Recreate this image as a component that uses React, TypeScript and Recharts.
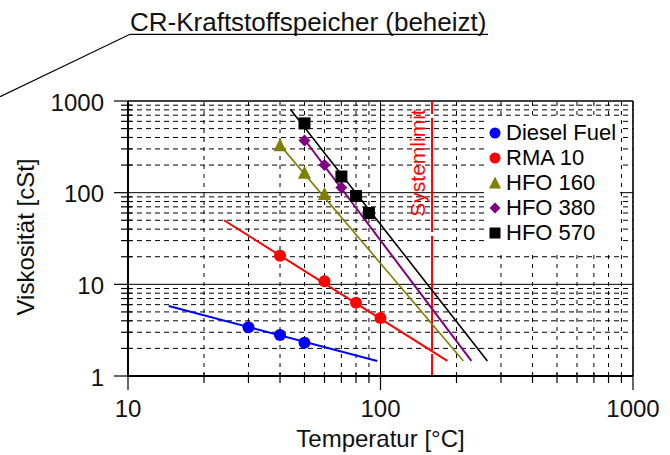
import React from "react";
import {
  ScatterChart,
  Scatter,
  XAxis,
  YAxis,
  ReferenceLine,
  Legend,
  Label,
} from "recharts";

const FONT = '"Liberation Sans", Arial, sans-serif';

// Measured viscosity points: temperature [°C] / viscosity [cSt]
const dieselTemp = [30, 40, 50];
const dieselVisc = [3.4, 2.8, 2.3];
const rmaTemp = [40, 60, 80, 100];
const rmaVisc = [20.5, 10.8, 6.3, 4.3];
const hfo160Temp = [40, 50, 60];
const hfo160Visc = [330, 165, 97];
const hfo380Temp = [50, 60, 70];
const hfo380Visc = [370, 200, 114];
const hfo570Temp = [50, 70, 80, 90];
const hfo570Visc = [570, 150, 92, 60];

// Trend lines (start and end of each fitted line)
const dieselFitTemp = [14.5, 97];
const dieselFitVisc = [5.8, 1.46];
const rmaFitTemp = [24, 184];
const rmaFitVisc = [50, 1.46];
const hfo160FitTemp = [40, 213];
const hfo160FitVisc = [330, 1.46];
const hfo380FitTemp = [50, 229];
const hfo380FitVisc = [380, 1.46];
const hfo570FitTemp = [44, 265];
const hfo570FitVisc = [809, 1.46];

const seriesNames = ["Diesel Fuel", "RMA 10", "HFO 160", "HFO 380", "HFO 570"];
const systemLimit = 160;
const systemLimitLabel = "Systemlimit";
const chartTitle = "CR-Kraftstoffspeicher (beheizt)";

// Axis ticks
const xMajor = [10, 100, 1000];
const xMinor = [20, 30, 40, 50, 60, 70, 80, 90, 200, 300, 400, 500, 600, 700, 800, 900];
const yMajor = [1, 10, 100, 1000];
const yMinor = [2, 3, 4, 5, 6, 7, 8, 9, 20, 30, 40, 50, 60, 70, 80, 90, 200, 300, 400, 500, 600, 700, 800, 900];

const toPoints = (xs: number[], ys: number[]) => xs.map((x, i) => ({ x, y: ys[i] }));

type Kind = "circle" | "triangle" | "diamond" | "square";

const styles: { color: string; kind: Kind; width: number }[] = [
  { color: "#0000ff", kind: "circle", width: 2 },
  { color: "#ff0000", kind: "circle", width: 2 },
  { color: "#808000", kind: "triangle", width: 1.6 },
  { color: "#800080", kind: "diamond", width: 2 },
  { color: "#000000", kind: "square", width: 1.6 },
];

const series = [
  { pts: toPoints(dieselTemp, dieselVisc), fit: toPoints(dieselFitTemp, dieselFitVisc) },
  { pts: toPoints(rmaTemp, rmaVisc), fit: toPoints(rmaFitTemp, rmaFitVisc) },
  { pts: toPoints(hfo160Temp, hfo160Visc), fit: toPoints(hfo160FitTemp, hfo160FitVisc) },
  { pts: toPoints(hfo380Temp, hfo380Visc), fit: toPoints(hfo380FitTemp, hfo380FitVisc) },
  { pts: toPoints(hfo570Temp, hfo570Visc), fit: toPoints(hfo570FitTemp, hfo570FitVisc) },
];

function Marker({ cx, cy, kind, color, s = 12 }: { cx: number; cy: number; kind: Kind; color: string; s?: number }) {
  const h = s / 2;
  if (kind === "circle") return <circle cx={cx} cy={cy} r={h} fill={color} />;
  if (kind === "square") return <rect x={cx - h} y={cy - h} width={s} height={s} fill={color} />;
  if (kind === "diamond")
    return <polygon points={`${cx},${cy - h} ${cx + h},${cy} ${cx},${cy + h} ${cx - h},${cy}`} fill={color} />;
  return <polygon points={`${cx},${cy - h - 1} ${cx + h + 0.5},${cy + h} ${cx - h - 0.5},${cy + h}`} fill={color} />;
}

const XTick = ({ x, y, payload }: any) => {
  const v = payload.value;
  const major = xMajor.includes(v);
  return (
    <g>
      <line x1={x} x2={x} y1={major ? y : y - 3} y2={major ? y + 14 : y + 7} stroke="#000" strokeWidth={1.2} />
      {major && (
        <text x={x} y={y + 41} textAnchor="middle" fontSize={24} fontFamily={FONT} fill="#111">
          {v}
        </text>
      )}
    </g>
  );
};

const YTick = ({ x, y, payload }: any) => {
  const v = payload.value;
  const major = yMajor.includes(v);
  return (
    <g>
      <line x1={major ? x - 14 : x - 7} x2={major ? x : x + 4} y1={y} y2={y} stroke="#000" strokeWidth={1.2} />
      {major && (
        <text x={x - 24} y={y + 9.5} textAnchor="end" fontSize={24} fontFamily={FONT} fill="#111">
          {v}
        </text>
      )}
    </g>
  );
};

const LegendBox = () => (
  <div style={{ background: "#fff", width: 136, height: 130, fontFamily: FONT, fontSize: 22, color: "#000" }}>
    {seriesNames.map((name, i) => (
      <div key={name} style={{ display: "flex", alignItems: "center", height: 25.2, marginTop: i === 0 ? 2 : 0 }}>
        <svg width={22} height={20} style={{ flexShrink: 0 }}>
          <Marker cx={11} cy={10} kind={styles[i].kind} color={styles[i].color} s={11} />
        </svg>
        <span style={{ lineHeight: "20px", whiteSpace: "nowrap" }}>{name}</span>
      </div>
    ))}
  </div>
);

export default function App() {
  return (
    <div style={{ position: "absolute", left: 0, top: 0, width: 670, height: 455, background: "#fff" }}>
      <ScatterChart width={670} height={455} margin={{ top: 101, right: 37, bottom: 0, left: 0 }}>
        <XAxis
          type="number"
          dataKey="x"
          scale="log"
          domain={[10, 1000]}
          allowDataOverflow
          ticks={[...xMajor, ...xMinor]}
          interval={0}
          tick={<XTick />}
          tickLine={false}
          tickSize={0}
          tickMargin={0}
          height={79}
          axisLine={{ stroke: "#000", strokeWidth: 2 }}
        >
          <Label value="Temperatur [°C]" position="insideBottom" offset={8} fontSize={24} fontFamily={FONT} fill="#111" />
        </XAxis>
        <YAxis
          type="number"
          dataKey="y"
          scale="log"
          domain={[1, 1000]}
          allowDataOverflow
          ticks={[...yMajor, ...yMinor]}
          interval={0}
          tick={<YTick />}
          tickLine={false}
          tickSize={0}
          tickMargin={0}
          width={128}
          axisLine={{ stroke: "#000", strokeWidth: 2 }}
        >
          <Label
            content={() => (
              <text transform="translate(34,237) rotate(-90)" textAnchor="middle" fontSize={24} fontFamily={FONT} fill="#111">
                Viskosität [cSt]
              </text>
            )}
          />
        </YAxis>

        {/* minor grid */}
        {xMinor.map((v) => (
          <ReferenceLine key={`xm${v}`} x={v} stroke="#000" strokeWidth={1} strokeDasharray="4 5" />
        ))}
        {yMinor.map((v) => (
          <ReferenceLine key={`ym${v}`} y={v} stroke="#000" strokeWidth={1} strokeDasharray="5 4" />
        ))}
        {/* major grid and frame */}
        <ReferenceLine x={100} stroke="#000" strokeWidth={1} />
        <ReferenceLine y={10} stroke="#000" strokeWidth={1} />
        <ReferenceLine y={100} stroke="#000" strokeWidth={1} />
        <ReferenceLine x={1000} stroke="#000" strokeWidth={1.6} />
        <ReferenceLine y={1000} stroke="#000" strokeWidth={1.6} />

        <ReferenceLine x={systemLimit} stroke="#ff0000" strokeWidth={2} strokeDasharray="114 4" strokeDashoffset={92}>
          <Label
            content={(p: any) => (
              <text
                transform={`translate(${p.viewBox.x - 7},${p.viewBox.y + 62}) rotate(-90)`}
                textAnchor="middle"
                fontSize={21}
                fontFamily={FONT}
                fill="#ff0000"
              >
                {systemLimitLabel}
              </text>
            )}
          />
        </ReferenceLine>

        {series.map((s, i) => (
          <Scatter
            key={`fit${i}`}
            data={s.fit}
            line={{ stroke: styles[i].color, strokeWidth: styles[i].width }}
            shape={() => <g />}
            legendType="none"
            isAnimationActive={false}
          />
        ))}
        {series.map((s, i) => (
          <Scatter
            key={`pts${i}`}
            name={seriesNames[i]}
            data={s.pts}
            shape={(p: any) => <Marker cx={p.cx} cy={p.cy} kind={styles[i].kind} color={styles[i].color} />}
            isAnimationActive={false}
          />
        ))}

        <Legend
          content={<LegendBox />}
          layout="horizontal"
          align="center"
          verticalAlign="middle"
          wrapperStyle={{ left: 484, top: 118, width: 136, height: 130 }}
        />
      </ScatterChart>

      <svg width={670} height={100} style={{ position: "absolute", left: 0, top: 0, pointerEvents: "none" }}>
        <text x={130} y={30.5} fontSize={26} fontFamily={FONT} fill="#111">
          {chartTitle}
        </text>
        <polyline points="0,96.7 130,34.3 488,34.3" fill="none" stroke="#000" strokeWidth={1.2} />
      </svg>
    </div>
  );
}
